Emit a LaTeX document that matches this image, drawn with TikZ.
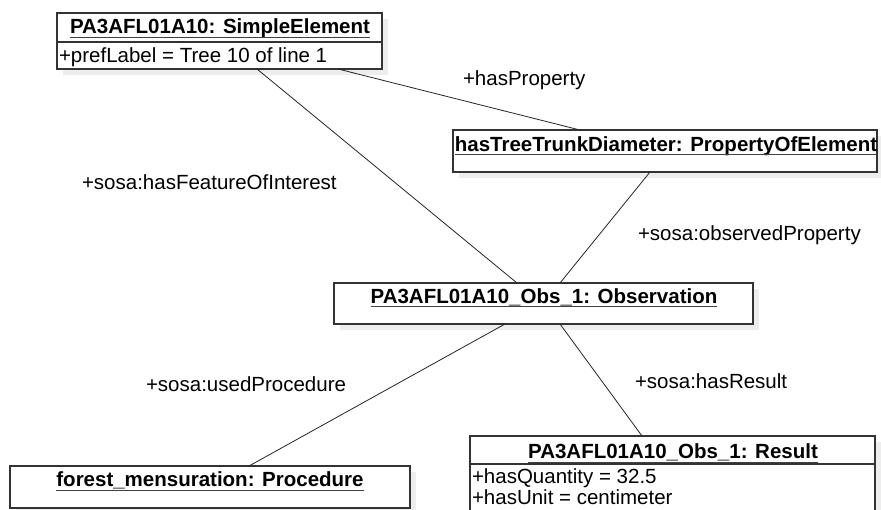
\documentclass[tikz,border=0pt]{standalone}
\usepackage{fontspec}
\setmainfont{Liberation Sans}
\begin{document}
\begin{tikzpicture}[x=1pt,y=-1pt,
  every node/.style={inner sep=0pt, outer sep=0pt},
  objbox/.style={draw=black!80, line width=1.1pt, fill=white, rectangle},
  link/.style={draw=black!85, line width=0.8pt},
  ttl/.style={font=\fontsize{20.5}{24}\selectfont\bfseries, anchor=base},
  attr/.style={font=\fontsize{20.5}{24}\selectfont, anchor=base west},
  lbl/.style={font=\fontsize{20.5}{24}\selectfont, anchor=base west},
  uline/.style={draw=black!75, line width=1pt}
]
\clip (0,0) rectangle (881,509);
\fill[white] (0,0) rectangle (881,509);

% shadows
\fill[black!7] (63,19) rectangle (388,75);
\fill[black!7] (459,136) rectangle (883,178);
\fill[black!7] (340,289) rectangle (759,330);
\fill[black!7] (16,472) rectangle (416,514);
\fill[black!7] (476,442) rectangle (881,530);

% boxes
\node[objbox, minimum width=325pt, minimum height=56pt] (se) at (219.5,41) {};
\node[objbox, minimum width=424pt, minimum height=42pt] (pe) at (665,151) {};
\node[objbox, minimum width=419pt, minimum height=41pt] (ob) at (543.5,303.5) {};
\node[objbox, minimum width=400pt, minimum height=42pt] (pr) at (210,487) {};
\node[objbox, minimum width=405pt, minimum height=89pt] (re) at (672.5,480.5) {};

% compartment dividers
\draw[draw=black!80, line width=1.1pt] (se.west |- 0,42) -- (se.east |- 0,42);
\draw[draw=black!80, line width=1.1pt] (re.west |- 0,464) -- (re.east |- 0,464);

% titles
\node[ttl] (set) at (220,33) {PA3AFL01A10: SimpleElement};
\draw[uline] ([yshift=-4.5pt]set.base west) -- ([yshift=-4.5pt]set.base east);
\node[ttl] (pet) at (666,151) {hasTreeTrunkDiameter: PropertyOfElement};
\draw[uline] ([yshift=-3pt]pet.base west) -- ([yshift=-3pt]pet.base east);
\node[ttl] (obt) at (544,303) {PA3AFL01A10\_Obs\_1: Observation};
\draw[uline] ([yshift=-3.5pt]obt.base west) -- ([yshift=-3.5pt]obt.base east);
\node[ttl] (prt) at (210,486) {forest\_mensuration: Procedure};
\draw[uline] ([yshift=-4.5pt]prt.base west) -- ([yshift=-4.5pt]prt.base east);
\node[ttl] (ret) at (673,458) {PA3AFL01A10\_Obs\_1: Result};
\draw[uline] ([yshift=-4.5pt]ret.base west) -- ([yshift=-4.5pt]ret.base east);

% attributes
\node[attr] (sea) at (59,62) {+prefLabel = Tree 10 of line 1};
\node[attr] (rea1) at (472,483) {+hasQuantity = 32.5};
\node[attr] (rea2) at (472,504) {+hasUnit = centimeter};

% connectors
\draw[link] ([xshift=118.5pt]se.south) -- ([xshift=-85pt]pe.north);
\draw[link] ([xshift=37.5pt]se.south) -- ([xshift=-26.5pt]ob.north);
\draw[link] ([xshift=-15pt]pe.south) -- ([xshift=16.5pt]ob.north);
\draw[link] ([xshift=-38.5pt]ob.south) -- ([xshift=39pt]pr.north);
\draw[link] ([xshift=16.5pt]ob.south) -- ([xshift=-30.5pt]re.north);

% labels
\node[lbl] (l1) at (463,85) {+hasProperty};
\node[lbl] (l2) at (82,189) {+sosa:hasFeatureOfInterest};
\node[lbl] (l3) at (638,240) {+sosa:observedProperty};
\node[lbl] (l4) at (146,391) {+sosa:usedProcedure};
\node[lbl] (l5) at (635,388) {+sosa:hasResult};
\end{tikzpicture}
\end{document}
